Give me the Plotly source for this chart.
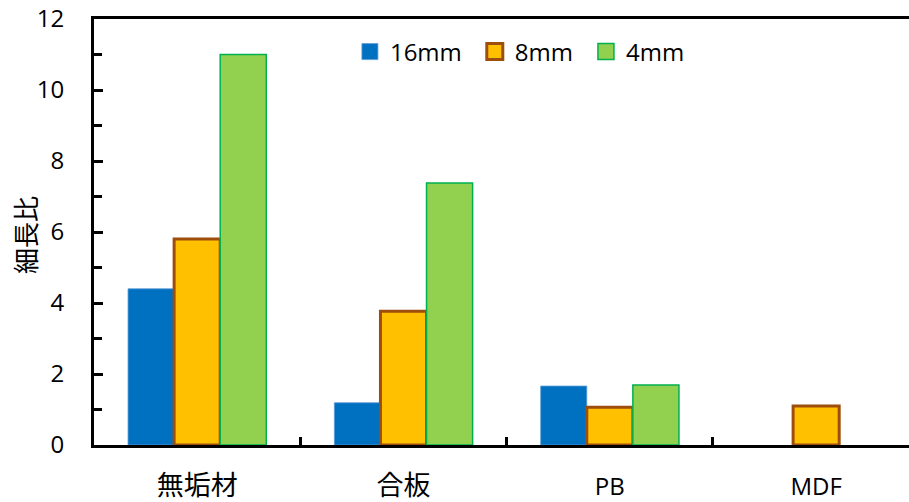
import plotly.graph_objects as go

# Slenderness ratio by board type and thickness
categories = ["無垢材", "合板", "PB", "MDF"]
series_names = ["16mm", "8mm", "4mm"]
vals_16mm = [4.4, 1.19, 1.66, None]
vals_8mm = [5.8, 3.77, 1.06, 1.10]
vals_4mm = [11.0, 7.38, 1.69, None]
y_ticks = [0, 2, 4, 6, 8, 10, 12]
y_title = "細長比"

fills = ["#0070C0", "#FFC000", "#92D050"]
edges = ["#5B9BD5", "#9E4E0C", "#00B050"]
edge_w = [0.8, 3, 1.5]

FONT = "Open Sans, Noto Sans CJK JP, sans-serif"

fig = go.Figure()
for name, vals, fc, ec, ew in zip(series_names, [vals_16mm, vals_8mm, vals_4mm], fills, edges, edge_w):
    fig.add_trace(go.Bar(
        x=categories, y=vals, name=name,
        marker=dict(color=fc, line=dict(color=ec, width=ew)),
        showlegend=False,
    ))
    # square legend swatch (trailing fixed-width space widens the entry)
    fig.add_trace(go.Scatter(
        x=[None], y=[None], mode="markers", name=name + "\u2004",
        marker=dict(symbol="square", size=16, color=fc, line=dict(color=ec, width=min(ew, 3))),
        showlegend=True,
    ))

tick_text = [f"<span style='font-size:27px'>{c}</span>" if not c.isascii() else c for c in categories]

fig.update_layout(
    width=909, height=502,
    margin=dict(l=94, r=0, t=19, b=57),
    paper_bgcolor="white", plot_bgcolor="white",
    barmode="group", bargap=0.33, bargroupgap=0,
    font=dict(family=FONT, size=24, color="black"),
    showlegend=True,
    legend=dict(orientation="h", x=0.314, y=0.9225, xanchor="left", yanchor="middle",
                bgcolor="rgba(0,0,0,0)", font=dict(size=24), itemwidth=30),
    xaxis=dict(
        type="category", range=[-0.5, 3.45],
        tickvals=categories, ticktext=tick_text,
        showline=True, linecolor="black", linewidth=3, mirror=True,
        ticks="inside", tickson="boundaries", ticklen=8, tickwidth=2.5, tickcolor="black",
        ticklabelstandoff=18, showgrid=False, zeroline=False,
    ),
    yaxis=dict(
        range=[0, 12], tickvals=y_ticks,
        showline=True, linecolor="black", linewidth=3, mirror=False,
        ticks="inside", ticklen=9, tickwidth=2.5, tickcolor="black",
        minor=dict(ticks="inside", dtick=1, ticklen=8, tickwidth=2.5, tickcolor="black", showgrid=False),
        ticklabelstandoff=22, showgrid=False, zeroline=False,
    ),
    annotations=[dict(
        text=y_title, textangle=-90, showarrow=False,
        xref="paper", yref="paper", x=-0.0834, y=0.493,
        xanchor="center", yanchor="middle", font=dict(size=26),
    )],
)

fig.write_html("out.html")
